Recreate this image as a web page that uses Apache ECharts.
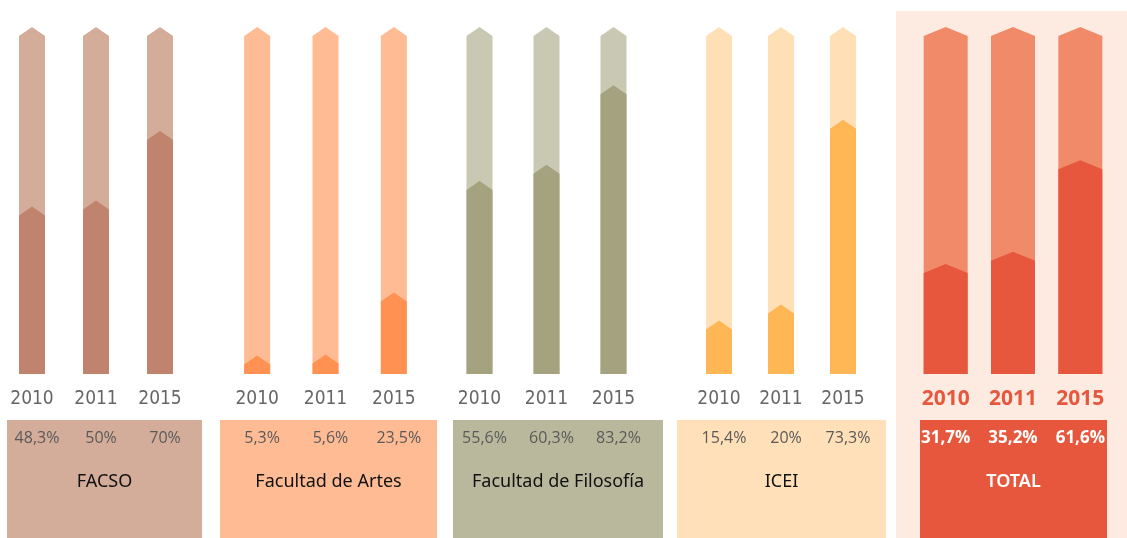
<!DOCTYPE html>
<html>
<head>
<meta charset="utf-8">
<script src="https://cdn.jsdelivr.net/npm/echarts@6/dist/echarts.min.js"></script>
<style>
  html, body { margin: 0; padding: 0; background: #fff; }
  #main { width: 1127px; height: 538px; }
</style>
</head>
<body>
<div id="main"></div>
<script>
// datos
var years = ['2010', '2011', '2015'];
var groupNames = ['FACSO', 'Facultad de Artes', 'Facultad de Filosofía', 'ICEI', 'TOTAL'];
var facso = [48.3, 50, 70];
var artes = [5.3, 5.6, 23.5];
var filosofia = [55.6, 60.3, 83.2];
var icei = [15.4, 20, 73.3];
var total = [31.7, 35.2, 61.6];

// estilo de cada grupo
var groups = [
    { name: groupNames[0], data: facso, left: 0, width: 192, barW: 26, back: '#D4AC9A', front: '#C0846E', box: [7, 195], boxColor: '#D4AC9A', total: false }
    , { name: groupNames[1], data: artes, left: 223, width: 205, barW: 26, back: '#FFBB93', front: '#FF9152', box: [220, 217], boxColor: '#FFBB93', total: false }
    , { name: groupNames[2], data: filosofia, left: 446, width: 201, barW: 26, back: '#C9C8B2', front: '#A5A280', box: [453, 210], boxColor: '#B9B89C', total: false }
    , { name: groupNames[3], data: icei, left: 688, width: 186, barW: 26, back: '#FFE0B6', front: '#FFB655', box: [677, 209], boxColor: '#FFE0B8', total: false }
    , { name: groupNames[4], data: total, left: 912, width: 202, barW: 44, back: '#F08A68', front: '#E6573D', box: [920, 187], boxColor: '#E6573D', total: true }
];

var TOP = 27, BOTTOM = 374, H = 538;

function fmt(v) {
    return String(v).replace('.', ',') + '%';
}

function makeRender(g) {
    return function (params, api) {
        var idx = api.value(0);
        var v = api.value(1);
        var base = api.coord([idx, 0]);
        var top = api.coord([idx, 100]);
        var vt = api.coord([idx, v]);
        var cx = base[0];
        var hw = g.barW / 2;
        var tip = 9;
        function shape(py) {
            return [[cx - hw, base[1]], [cx - hw, py + tip], [cx, py], [cx + hw, py + tip], [cx + hw, base[1]]];
        }
        return {
            type: 'group'
            , children: [
                { type: 'polygon', shape: { points: shape(top[1]) }, style: { fill: g.back } }
                , { type: 'polygon', shape: { points: shape(vt[1]) }, style: { fill: g.front } }
                , {
                    type: 'text'
                    , style: {
                        text: fmt(v)
                        , x: cx + (g.total ? 0 : 5)
                        , y: base[1] + 64
                        , align: 'center'
                        , verticalAlign: 'middle'
                        , fill: g.total ? '#ffffff' : '#5a5a5a'
                        , font: (g.total ? 'bold 17px ' : '16px ') + '"Open Sans", "Noto Sans", sans-serif'
                    }
                }
            ]
        };
    };
}

var grid = [], xAxis = [], yAxis = [], series = [], graphic = [];

graphic.push({ type: 'rect', z: -10, shape: { x: 896, y: 11, width: 231, height: H - 11 }, style: { fill: '#FDEBE1' } });

for (var i = 0; i < groups.length; i++) {
    var g = groups[i];
    grid.push({ left: g.left, width: g.width, top: TOP, bottom: H - BOTTOM });
    xAxis.push({
        type: 'category'
        , gridIndex: i
        , data: years
        , axisLine: { show: false }
        , axisTick: { show: false }
        , axisLabel: {
            margin: g.total ? 15 : 16
            , color: g.total ? '#E6573D' : '#666666'
            , fontSize: g.total ? 21 : 19
            , fontWeight: g.total ? 'bold' : 'normal'
            , fontFamily: g.total ? '"Open Sans", sans-serif' : '"Liberation Sans Narrow", "DejaVu Sans Condensed", sans-serif'
        }
    });
    yAxis.push({ type: 'value', gridIndex: i, min: 0, max: 100, show: false, splitLine: { show: false } });
    series.push({
        type: 'custom'
        , xAxisIndex: i
        , yAxisIndex: i
        , renderItem: makeRender(g)
        , data: g.data.map(function (v, k) { return [k, v]; })
        , silent: true
        , z: 5
    });
    graphic.push({ type: 'rect', z: -5, shape: { x: g.box[0], y: 420, width: g.box[1], height: H - 420 }, style: { fill: g.boxColor } });
    graphic.push({
        type: 'text'
        , z: 10
        , x: g.box[0] + g.box[1] / 2
        , y: 482
        , style: {
            text: g.name
            , align: 'center'
            , verticalAlign: 'middle'
            , fill: g.total ? '#ffffff' : '#111111'
            , font: (g.total ? '600 18px ' : '18px ') + '"Noto Sans", "Open Sans", sans-serif'
        }
    });
}

var myChart = echarts.init(document.getElementById('main'));
myChart.setOption({
    animation: false
    , grid: grid
    , xAxis: xAxis
    , yAxis: yAxis
    , series: series
    , graphic: graphic
});
</script>
</body>
</html>
